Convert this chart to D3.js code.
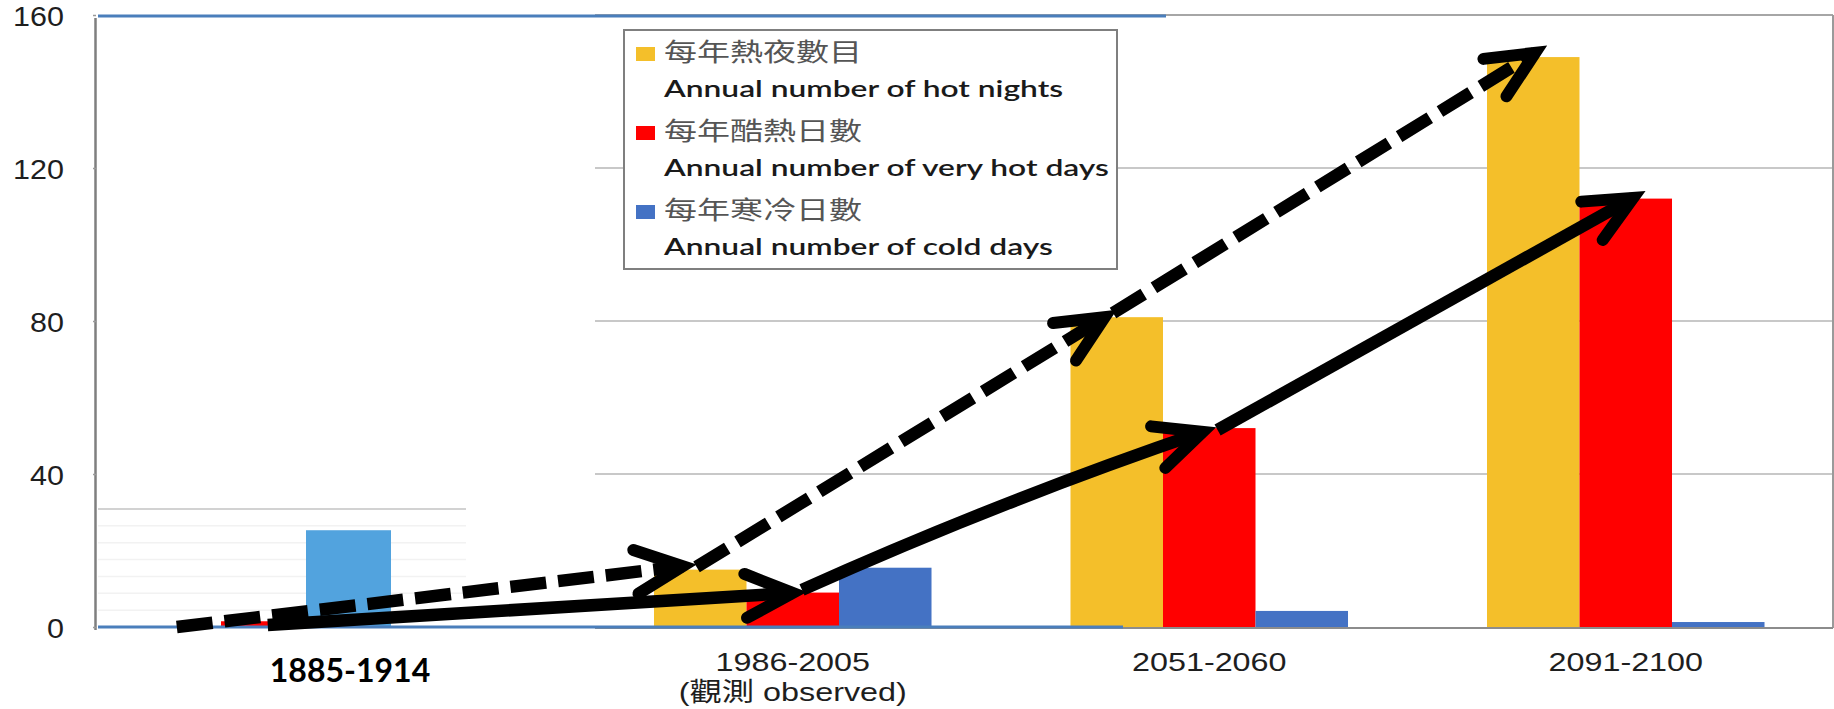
<!DOCTYPE html>
<html>
<head>
<meta charset="utf-8">
<script src="https://cdn.jsdelivr.net/npm/d3@7"></script>
<style>
  html, body { margin: 0; padding: 0; background: #fff; }
  svg { display: block; }
</style>
</head>
<body>
<svg id="chart" width="1834" height="709"></svg>
<script>
// ---- data ----
const periods = ["1885-1914", "1986-2005", "2051-2060", "2091-2100"];
const periodNotes = ["", "(觀測 observed)", "", ""];
const seriesKeys = ["hotNights", "veryHotDays", "coldDays"];
const seriesZh = ["每年熱夜數目", "每年酷熱日數", "每年寒冷日數"];
const seriesEn = ["Annual number of hot nights", "Annual number of very hot days", "Annual number of cold days"];
const hotNights = [0.2, 15, 81, 149];
const veryHotDays = [1.5, 9, 52, 112];
const coldDays = [25.3, 15.5, 4.2, 1.3];
const yTicks = [0, 40, 80, 120, 160];

// trend arrows: each segment runs between two points given as
// period index, fraction across that series' bar, value
const hotNightsTrend = [
  [{ p: 0, f: 0.48, v: 0 },    { p: 1, f: 0.31, v: 15.9 }],
  [{ p: 1, f: 0.46, v: 15.7 }, { p: 2, f: 0.37, v: 81 }],
  [{ p: 2, f: 0.46, v: 82.1 }, { p: 3, f: 0.52, v: 150.1 }]
];
const veryHotTrend = [
  [{ p: 0, f: 0.55, v: 0.5 },  { p: 1, f: 0.50, v: 8.9 }],
  [{ p: 1, f: 0.60, v: 9.7 },  { p: 2, f: 0.43, v: 51 }],
  [{ p: 2, f: 0.59, v: 51.5 }, { p: 3, f: 0.58, v: 112.2 }]
];

const seriesValues = { hotNights, veryHotDays, coldDays };

// ---- styles ----
const colors = { hotNights: "#F4BF2A", veryHotDays: "#FF0000", coldDays: "#4472C4" };
const insetColors = { hotNights: "#F4BF2A", veryHotDays: "#FF0000", coldDays: "#52A3DE" };
const axisBlue = "#4A7EBB";
const gridGray = "#C8C8C8";

const svg = d3.select("#chart");

// ---- scales ----
const y = d3.scaleLinear().domain([0, 160]).range([627, 15]);

// projection periods (and the observed one) share one grouped band layout
const mainPeriods = periods.slice(1);
const x0 = d3.scaleBand().domain(mainPeriods).range([584.5, 1834])
  .paddingInner(0.3337).paddingOuter(0.16685);
const x1 = d3.scaleBand().domain(seriesKeys).range([0, x0.bandwidth()]);

// the historical period sits in its own inset panel on the left
const xInset = d3.scaleBand().domain(seriesKeys).range([136, 391]);
const yInset = d3.scaleLinear().domain([0, 35]).range([y(0), 509]);

function xAt(p, key, f) {
  if (p === 0) return xInset(key) + f * xInset.bandwidth();
  return x0(periods[p]) + x1(key) + f * x1.bandwidth();
}

const panelLeft = 595, panelRight = 1833;

// ---- gridlines (projection panel) ----
svg.append("g").selectAll("line")
  .data(yTicks.filter(d => d > 0))
  .join("line")
  .attr("x1", panelLeft).attr("x2", panelRight)
  .attr("y1", d => y(d)).attr("y2", d => y(d))
  .attr("stroke", d => d === 160 ? "#A6A6A6" : gridGray)
  .attr("stroke-width", 2);

svg.append("line")
  .attr("x1", panelRight).attr("x2", panelRight)
  .attr("y1", y(160)).attr("y2", y(0) + 1)
  .attr("stroke", "#9A9A9A").attr("stroke-width", 2);

// ---- gridlines (inset panel) ----
svg.append("g").selectAll("line")
  .data(d3.range(5, 36, 5))
  .join("line")
  .attr("x1", 98).attr("x2", 466)
  .attr("y1", d => yInset(d)).attr("y2", d => yInset(d))
  .attr("stroke", d => d === 35 ? "#D2D2D2" : "#F2F2F2")
  .attr("stroke-width", d => d === 35 ? 2 : 1.5);

// ---- bars ----
const groups = svg.append("g").selectAll("g")
  .data(mainPeriods)
  .join("g")
  .attr("transform", d => `translate(${x0(d)},0)`);

groups.selectAll("rect")
  .data(d => seriesKeys.map(k => ({ key: k, value: seriesValues[k][periods.indexOf(d)] })))
  .join("rect")
  .attr("x", d => x1(d.key))
  .attr("width", x1.bandwidth())
  .attr("y", d => y(d.value))
  .attr("height", d => y(0) - y(d.value))
  .attr("fill", d => colors[d.key]);

svg.append("g").selectAll("rect")
  .data(seriesKeys.map(k => ({ key: k, value: seriesValues[k][0] })))
  .join("rect")
  .attr("x", d => xInset(d.key))
  .attr("width", xInset.bandwidth())
  .attr("y", d => y(d.value))
  .attr("height", d => y(0) - y(d.value))
  .attr("fill", d => insetColors[d.key]);

// ---- axes lines ----
svg.append("line")
  .attr("x1", panelLeft).attr("x2", panelRight)
  .attr("y1", y(0) + 1).attr("y2", y(0) + 1)
  .attr("stroke", "#8C8C8C").attr("stroke-width", 2);
svg.append("line")
  .attr("x1", 98).attr("x2", 1123)
  .attr("y1", y(0)).attr("y2", y(0))
  .attr("stroke", axisBlue).attr("stroke-width", 3);
svg.append("line")
  .attr("x1", 98).attr("x2", 1166)
  .attr("y1", y(160) + 1).attr("y2", y(160) + 1)
  .attr("stroke", axisBlue).attr("stroke-width", 3);

// y axis
const yAxis = d3.axisLeft(y).tickValues(yTicks).tickSize(3).tickFormat(d3.format("d"));
const yAxisG = svg.append("g").attr("transform", "translate(96,0)").call(yAxis);
yAxisG.select(".domain").attr("d", `M-0.5,${y(160) + 3}V${y(0) + 3}`)
  .attr("stroke", "#7F7F7F").attr("stroke-width", 2.5);
yAxisG.selectAll(".tick line").attr("stroke", "#9A9A9A").attr("stroke-width", 1.5);
yAxisG.selectAll(".tick text")
  .attr("x", -32)
  .attr("dy", "0.38em")
  .attr("fill", "#1E1E1E")
  .style("font-family", "'Liberation Sans', Arial, sans-serif")
  .style("font-size", "28px");

// stretch helper: widen text horizontally around its anchor
function stretch(sel, factor) {
  sel.each(function () {
    const w = this.getComputedTextLength();
    d3.select(this).attr("textLength", w * factor).attr("lengthAdjust", "spacingAndGlyphs");
  });
}
stretch(yAxisG.selectAll(".tick text"), 1.09);

// ---- category labels ----
const catFont = "'Liberation Sans', Arial, 'Noto Sans CJK TC', sans-serif";
const catLabels = svg.append("g").selectAll("g")
  .data(mainPeriods)
  .join("g")
  .attr("transform", d => `translate(${x0(d) + x0.bandwidth() / 2},0)`);
catLabels.append("text")
  .attr("y", 671)
  .attr("text-anchor", "middle")
  .attr("fill", "#1E1E1E")
  .style("font-family", catFont)
  .style("font-size", "26.5px")
  .text(d => d);
catLabels.filter(d => periodNotes[periods.indexOf(d)])
  .append("text")
  .attr("y", 701)
  .attr("text-anchor", "middle")
  .attr("fill", "#1E1E1E")
  .style("font-family", catFont)
  .style("font-size", "26.5px")
  .text(d => periodNotes[periods.indexOf(d)]);
stretch(catLabels.selectAll("text"), 1.22);

svg.append("text")
  .attr("x", 350).attr("y", 682)
  .attr("text-anchor", "middle")
  .attr("fill", "#000")
  .style("font-family", "Lato, 'Open Sans', sans-serif")
  .style("font-weight", 700)
  .style("font-size", "32px")
  .text(periods[0]);

// ---- legend ----
const legend = svg.append("g");
legend.append("rect")
  .attr("x", 624).attr("y", 30).attr("width", 493).attr("height", 239)
  .attr("fill", "#fff").attr("stroke", "#7F7F7F").attr("stroke-width", 2);
const rows = legend.selectAll("g.row")
  .data(seriesKeys)
  .join("g")
  .attr("class", "row")
  .attr("transform", (d, i) => `translate(0,${i * 79})`);
rows.append("rect")
  .attr("x", 636).attr("y", 47).attr("width", 19).attr("height", 14)
  .attr("fill", d => colors[d]);
const zh = rows.append("text")
  .attr("x", 664).attr("y", 61)
  .attr("fill", "#555")
  .style("font-family", "'Noto Sans CJK TC', 'Noto Sans CJK SC', sans-serif")
  .style("font-size", "25px")
  .text((d, i) => seriesZh[i]);
stretch(zh, 1.32);
const en = rows.append("text")
  .attr("x", 664).attr("y", 97)
  .attr("fill", "#1A1A1A")
  .style("font-family", "Lato, 'Open Sans', sans-serif")
  .style("font-weight", 600)
  .style("font-size", "23px")
  .text((d, i) => seriesEn[i]);
stretch(en, 1.38);

// ---- trend arrows ----
const arrowLayer = svg.append("g");
const armLen = 52, armAngle = 25 * Math.PI / 180;

function drawTrend(segments, key, dashed, bows) {
  segments.forEach((seg, i) => {
    const a = [xAt(seg[0].p, key, seg[0].f), y(seg[0].v)];
    const b = [xAt(seg[1].p, key, seg[1].f), y(seg[1].v)];
    const bow = bows[i] || 0;
    const dx = b[0] - a[0], dy = b[1] - a[1];
    const len = Math.hypot(dx, dy);
    const c = [(a[0] + b[0]) / 2 + dy / len * bow * 2, (a[1] + b[1]) / 2 - dx / len * bow * 2];
    const p = d3.path();
    p.moveTo(a[0], a[1]);
    if (bow) p.quadraticCurveTo(c[0], c[1], b[0], b[1]);
    else p.lineTo(b[0], b[1]);
    arrowLayer.append("path")
      .attr("d", p.toString())
      .attr("fill", "none")
      .attr("stroke", "#000")
      .attr("stroke-width", 12.5)
      .attr("stroke-dasharray", dashed ? "36 12" : null);
    // arrowhead: two arms meeting at the tip
    const from = bow ? c : a;
    const ang = Math.atan2(b[1] - from[1], b[0] - from[0]) + Math.PI;
    const arm = s => [b[0] + armLen * Math.cos(ang + s * armAngle), b[1] + armLen * Math.sin(ang + s * armAngle)];
    arrowLayer.append("path")
      .attr("d", d3.line()([arm(1), b, arm(-1)]))
      .attr("fill", "none")
      .attr("stroke", "#000")
      .attr("stroke-width", 12)
      .attr("stroke-linecap", "round")
      .attr("stroke-linejoin", "miter")
      .attr("stroke-miterlimit", 10);
  });
}
drawTrend(hotNightsTrend, "hotNights", true, [0, 0, 0]);
drawTrend(veryHotTrend, "veryHotDays", false, [0, 5, 0]);
</script>
</body>
</html>
